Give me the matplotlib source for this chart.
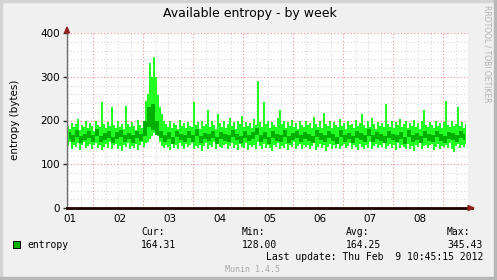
import numpy as np
import matplotlib
matplotlib.use('Agg')
import matplotlib.pyplot as plt
from matplotlib.patches import Rectangle, Polygon

# min/max envelope, one sample per ~1 hour over 8 days
light_hi = [188, 180, 195, 185, 192, 203, 178, 190, 185, 198, 182, 194, 188, 176, 200, 190, 185, 242, 192, 183,
            196, 187, 231, 190, 182, 199, 186, 193, 180, 233, 191, 185, 197, 188, 179, 202, 190, 184, 195, 245,
            260, 331, 300, 345, 300, 258, 230, 215, 200, 192, 186, 198, 183, 195, 189, 180, 201, 187, 194, 182,
            197, 188, 185, 242, 190, 196, 181, 199, 187, 193, 224, 185, 198, 189, 180, 215, 194, 186, 200, 183,
            192, 205, 187, 196, 180, 199, 191, 210, 185, 197, 188, 194, 182, 203, 190, 290, 196, 186, 242, 193,
            200, 184, 197, 190, 186, 205, 225, 192, 199, 183, 196, 188, 202, 185, 194, 181, 198, 190, 186, 200,
            189, 195, 182, 208, 191, 186, 199, 184, 217, 193, 187, 200, 182, 196, 190, 185, 203, 188, 194, 180,
            198, 189, 192, 184, 201, 187, 195, 215, 190, 183, 199, 186, 205, 192, 181, 197, 188, 194, 185, 238,
            193, 186, 200, 182, 196, 189, 204, 185, 192, 198, 183, 195, 188, 201, 186, 194, 181, 199, 224, 190,
            185, 197, 190, 183, 200, 188, 194, 182, 196, 245, 190, 185, 199, 187, 193, 231, 188, 196, 184, 192]
light_lo = [142, 150, 136, 145, 139, 148, 133, 144, 150, 138, 141, 147, 135, 143, 149, 137, 145, 132, 140, 146,
            138, 150, 134, 143, 147, 136, 141, 131, 145, 139, 148, 135, 142, 137, 146, 133, 144, 150, 139, 148,
            152, 158, 165, 172, 176, 165, 150, 142, 137, 145, 140, 133, 147, 138, 144, 136, 149, 141, 135, 146,
            139, 143, 148, 134, 141, 137, 145, 131, 142, 148, 136, 144, 139, 150, 134, 146, 140, 137, 143, 147,
            135, 141, 149, 138, 144, 133, 146, 140, 137, 148, 132, 143, 139, 145, 136, 150, 141, 134, 147, 138,
            143, 137, 130, 145, 140, 148, 135, 142, 138, 146, 133, 144, 139, 150, 136, 141, 147, 134, 143, 139,
            145, 136, 142, 148, 133, 140, 146, 137, 144, 131, 139, 147, 135, 143, 138, 149, 134, 141, 146, 137,
            142, 148, 136, 144, 139, 133, 147, 140, 135, 145, 138, 150, 134, 142, 146, 137, 143, 139, 148, 135,
            141, 146, 137, 143, 132, 149, 138, 145, 140, 135, 147, 136, 142, 131, 144, 139, 148, 134, 141, 145,
            138, 143, 147, 133, 140, 146, 136, 142, 139, 145, 137, 149, 134, 128, 141, 146, 138, 143, 140, 147]

# average band, one sample per ~2 hours
dark_hi = [174, 166, 178, 165, 170, 176, 168, 180, 164, 172,
           175, 163, 173, 179, 167, 172, 166, 177, 170, 200,
           232, 238, 200, 176, 168, 173, 163, 177, 170, 166,
           175, 167, 180, 165, 172, 170, 176, 163, 173, 170,
           166, 178, 170, 164, 176, 168, 173, 184, 166, 174,
           163, 176, 170, 168, 179, 164, 172, 175, 167, 173,
           169, 164, 178, 171, 166, 175, 169, 163, 178, 168,
           172, 165, 176, 171, 166, 180, 166, 173, 169, 164,
           177, 170, 166, 173, 163, 178, 168, 171, 165, 176,
           170, 166, 177, 169, 164, 174, 171, 167, 176, 170]
dark_lo = [158, 150, 162, 148, 156, 160, 152, 165, 150, 155,
           160, 148, 157, 163, 151, 158, 149, 161, 153, 165,
           185, 178, 168, 160, 152, 158, 147, 162, 155, 150,
           159, 152, 164, 149, 157, 153, 161, 147, 158, 154,
           150, 162, 155, 148, 160, 153, 157, 166, 150, 158,
           147, 161, 154, 152, 163, 149, 156, 160, 151, 158,
           153, 148, 162, 156, 150, 159, 154, 147, 163, 152,
           157, 149, 160, 155, 151, 164, 150, 158, 153, 148,
           161, 155, 150, 158, 147, 163, 152, 156, 149, 160,
           154, 150, 162, 153, 148, 158, 156, 151, 160, 155]

day_labels = ['01', '02', '03', '04', '05', '06', '07', '08']
y_ticks = [0, 100, 200, 300, 400]

x_light = (np.arange(len(light_hi)) + 0.5) * 8.0 / len(light_hi)
x_dark = (np.arange(len(dark_hi)) + 0.5) * 8.0 / len(dark_hi)

W, H = 497, 280
fig = plt.figure(figsize=(W / 100, H / 100), dpi=100)
fig.patch.set_facecolor('#F0F0F0')

# 3d-ish frame
fig.patches.append(Rectangle((0, 1 - 2 / H), 1, 2 / H, transform=fig.transFigure, color='#D4D4D4', zorder=0))
fig.patches.append(Rectangle((0, 0), 2 / W, 1, transform=fig.transFigure, color='#D4D4D4', zorder=0))
fig.patches.append(Rectangle((0, 0), 1, 3 / H, transform=fig.transFigure, color='#B8B8B8', zorder=0))
fig.patches.append(Rectangle((1 - 3 / W, 0), 3 / W, 1, transform=fig.transFigure, color='#B8B8B8', zorder=0))

ax = fig.add_axes([67 / W, (H - 208) / H, 401 / W, 175 / H])
ax.set_facecolor('white')
ax.set_xlim(0, 401 / 50)
ax.set_ylim(0, 400)

# grid
for v in range(20, 400, 20):
    if v % 100:
        ax.axhline(v, color='#D6D6D6', lw=0.8, ls=(0, (1, 2)), zorder=1)
for k in range(33):
    xv = 0.02 + 0.25 * k
    if k % 4 != 2:
        ax.axvline(xv, color='#D6D6D6', lw=0.8, ls=(0, (1, 2)), zorder=1)
for v in y_ticks[1:]:
    ax.axhline(v, color='#F09090', lw=0.8, ls=(0, (1, 2)), zorder=1)
for k in range(8):
    ax.axvline(0.52 + k, color='#F09090', lw=0.8, ls=(0, (1, 2)), zorder=1)

ax.fill_between(x_light, light_lo, light_hi, step='mid', color='#22FF22', lw=0, zorder=2)
ax.fill_between(x_dark, dark_lo, dark_hi, step='mid', color='#00B000', lw=0, zorder=3)

for s in ax.spines.values():
    s.set_visible(False)

# axes with arrows
ax.plot([0, 0], [0, 410], color='#707070', lw=1, clip_on=False, zorder=4)
ax.plot([0, 8.1], [0, 0], color='#200000', lw=2, clip_on=False, zorder=4)
fig.patches.append(Polygon([[64.5 / W, (H - 33) / H], [69.5 / W, (H - 33) / H], [67 / W, (H - 27) / H]],
                           closed=True, transform=fig.transFigure, color='#902020', zorder=5))
fig.patches.append(Polygon([[468 / W, (H - 205.5) / H], [468 / W, (H - 210.5) / H], [474 / W, (H - 208) / H]],
                           closed=True, transform=fig.transFigure, color='#902020', zorder=5))

ax.set_yticks(y_ticks)
ax.set_yticklabels([str(v) for v in y_ticks], fontsize=7.5)
ax.tick_params(axis='y', length=3, width=1, color='#303030', pad=2)
ax.set_xticks([0.05 + k for k in range(8)])
ax.set_xticklabels(day_labels, fontsize=7.5)
ax.tick_params(axis='x', length=0, pad=4)

fig.text(15 / W, 1 - 120 / H, 'entropy (bytes)', rotation=90, ha='center', va='center', fontsize=7.5)
fig.text(250 / W, 1 - 13 / H, 'Available entropy - by week', ha='center', va='center', fontsize=9)
fig.text(487 / W, 1 - 5 / H, 'RRDTOOL / TOBI OETIKER', rotation=270, ha='center', va='top',
         fontsize=5.5, color='#B0B0B0')

# legend
mono = 'DejaVu Sans Mono'
fig.patches.append(Rectangle((13 / W, 1 - 248 / H), 7 / W, 7 / H, transform=fig.transFigure,
                             facecolor='#00B000', edgecolor='black', lw=0.7, zorder=5))
fig.text(27 / W, 1 - 245 / H, 'entropy', family=mono, fontsize=7, va='center')
cols = [('Cur:', '164.31', 141), ('Min:', '128.00', 242), ('Avg:', '164.25', 346), ('Max:', '345.43', 447)]
for head, val, xl in cols:
    fig.text(xl / W, 1 - 232 / H, head, family=mono, fontsize=7, va='center')
    fig.text(xl / W, 1 - 245 / H, val, family=mono, fontsize=7, va='center')
fig.text(483 / W, 1 - 257 / H, 'Last update: Thu Feb  9 10:45:15 2012', family=mono, fontsize=7,
         va='center', ha='right')
fig.text(225 / W, 1 - 269 / H, 'Munin 1.4.5', family=mono, fontsize=6, va='center', color='#A8A8A8')

fig.savefig('out.png', dpi=100, facecolor=fig.get_facecolor())
